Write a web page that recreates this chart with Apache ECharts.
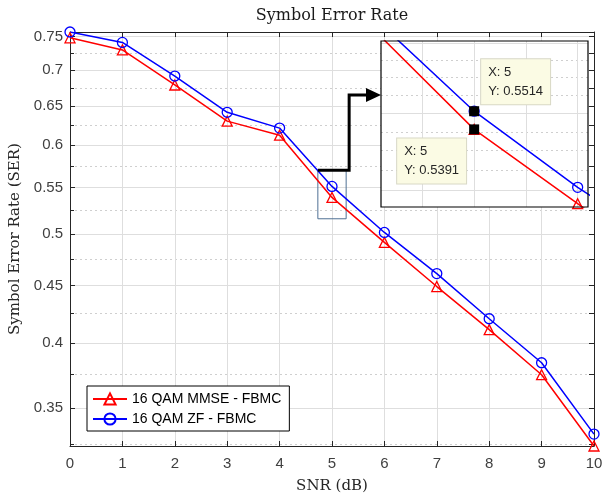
<!DOCTYPE html>
<html>
<head>
<meta charset="utf-8">
<script src="https://cdn.jsdelivr.net/npm/echarts@6/dist/echarts.min.js"></script>
<style>
  html, body { margin: 0; padding: 0; background: #fff; }
  #chart { width: 606px; height: 498px; }
</style>
</head>
<body>
<div id="chart"></div>
<script>
// data
var snr = [0, 1, 2, 3, 4, 5, 6, 7, 8, 9, 10];
var serMmse = [0.748, 0.7297, 0.679, 0.6305, 0.6125, 0.5391, 0.4916, 0.449, 0.411, 0.3747, 0.3237];
var serZf = [0.757, 0.741, 0.6916, 0.642, 0.6215, 0.5514, 0.5017, 0.4611, 0.4203, 0.384, 0.3317];
var nameMmse = '16 QAM MMSE - FBMC';
var nameZf = '16 QAM ZF - FBMC';

// tick labels / grid lines
var yMajor = [0.35, 0.4, 0.45, 0.5, 0.55, 0.6, 0.65, 0.7, 0.75];
var yMinor = [0.325, 0.375, 0.425, 0.475, 0.525, 0.575, 0.625, 0.675, 0.725];
var insetX = [4.5, 5, 5.5, 6];
var insetMajor = [0.5, 0.55, 0.6];
var insetMinor = [0.5125, 0.525, 0.5375, 0.5625, 0.575, 0.5875];

// zoom window + data tips
var zoomBox = [[4.73, 0.516], [5.27, 0.570]];
var tipIndex = 5;

var axisColor = '#262626';
var gridColor = '#dedede';
var minorColor = '#cfcfcf';
var sans = '"Liberation Sans", Arial, sans-serif';
var serif = '"DejaVu Serif", serif';

function pairs(ys) {
  return snr.map(function (x, i) { return [x, ys[i]]; });
}

var chart = echarts.init(document.getElementById('chart'), null, { renderer: 'canvas' });

var tipLabel = {
  show: true,
  fontFamily: sans,
  fontSize: 13,
  lineHeight: 19,
  color: '#262626',
  backgroundColor: '#fbfbe4',
  borderColor: '#d8d8c6',
  borderWidth: 1,
  padding: [4, 7, 3, 7],
  align: 'left',
  verticalAlign: 'top'
};

var option = {
  animation: false,
  backgroundColor: '#fff',
  grid: [
    { left: 70, top: 32, width: 524, height: 414, outerBoundsMode: 'none' },
    { left: 381, top: 41, width: 207, height: 166, outerBoundsMode: 'none' }
  ],
  legend: {
    data: [nameMmse, nameZf],
    orient: 'vertical',
    left: 87,
    top: 386,
    padding: [6, 8, 5, 5],
    itemGap: 6,
    itemWidth: 34,
    itemHeight: 14,
    backgroundColor: '#fff',
    borderColor: '#000',
    borderWidth: 1,
    textStyle: { fontFamily: sans, fontSize: 14, color: '#000' }
  },
  xAxis: [
    {
      type: 'value', gridIndex: 0, position: 'bottom', min: 0, max: 10, interval: 1,
      name: 'SNR (dB)', nameLocation: 'middle', nameGap: 33,
      nameTextStyle: { fontFamily: serif, fontSize: 15, color: '#262626' },
      axisLine: { lineStyle: { color: axisColor } },
      axisTick: { inside: true, length: 5, lineStyle: { color: axisColor } },
      axisLabel: { margin: 10, fontFamily: sans, fontSize: 15, color: '#404040' },
      splitLine: { show: true, lineStyle: { color: gridColor, width: 1 } }
    },
    {
      type: 'value', gridIndex: 0, position: 'top', min: 0, max: 10, interval: 1,
      name: 'Symbol Error Rate', nameLocation: 'middle', nameGap: 8,
      nameTextStyle: { fontFamily: serif, fontSize: 16, color: '#1a1a1a' },
      axisLine: { lineStyle: { color: axisColor } },
      axisTick: { inside: true, length: 5, lineStyle: { color: axisColor } },
      axisLabel: { show: false },
      splitLine: { show: false }
    },
    {
      type: 'value', gridIndex: 1, min: 4.1, max: 6.1, z: 6,
      axisLine: { show: false },
      axisTick: { show: false, customValues: insetX },
      axisLabel: { show: false, customValues: insetX },
      splitLine: { show: true, lineStyle: { color: gridColor, width: 1 } }
    }
  ],
  yAxis: [
    {
      type: 'log', gridIndex: 0, position: 'left', min: 0.3237, max: 0.757,
      name: 'Symbol Error Rate (SER)', nameLocation: 'middle', nameGap: 40,
      nameTextStyle: { fontFamily: serif, fontSize: 15, color: '#262626' },
      axisLine: { show: true, lineStyle: { color: axisColor } },
      axisTick: { inside: true, length: 5, customValues: yMajor, lineStyle: { color: axisColor } },
      axisLabel: {
        customValues: yMajor, margin: 7, fontFamily: sans, fontSize: 15, color: '#404040',
        formatter: function (v) { return String(+(+v).toFixed(3)); }
      },
      splitLine: { show: true, lineStyle: { color: gridColor, width: 1 } }
    },
    {
      type: 'log', gridIndex: 0, position: 'left', min: 0.3237, max: 0.757,
      axisLine: { show: false },
      axisTick: { show: true, inside: true, length: 4, customValues: yMinor, lineStyle: { color: axisColor } },
      axisLabel: { show: false, customValues: yMinor },
      splitLine: { show: true, lineStyle: { color: minorColor, width: 1, type: [2, 3] } }
    },
    {
      type: 'log', gridIndex: 0, position: 'right', min: 0.3237, max: 0.757,
      axisLine: { show: true, lineStyle: { color: axisColor } },
      axisTick: { show: true, inside: true, length: 5, customValues: yMajor.concat(yMinor), lineStyle: { color: axisColor } },
      axisLabel: { show: false, customValues: yMajor.concat(yMinor) },
      splitLine: { show: false }
    },
    {
      type: 'log', gridIndex: 1, position: 'left', min: 0.4896, max: 0.6016, z: 6,
      axisLine: { show: false },
      axisTick: { show: false, customValues: insetMajor },
      axisLabel: { show: false, customValues: insetMajor },
      splitLine: { show: true, lineStyle: { color: gridColor, width: 1 } }
    },
    {
      type: 'log', gridIndex: 1, position: 'left', min: 0.4896, max: 0.6016, z: 6,
      axisLine: { show: false },
      axisTick: { show: false, customValues: insetMinor },
      axisLabel: { show: false, customValues: insetMinor },
      splitLine: { show: true, lineStyle: { color: minorColor, width: 1, type: [2, 3] } }
    }
  ],
  series: [
    {
      name: nameMmse, type: 'line', xAxisIndex: 0, yAxisIndex: 0,
      data: pairs(serMmse),
      symbol: 'triangle', symbolSize: 10,
      lineStyle: { color: '#ff0000', width: 1.5 },
      itemStyle: { color: 'rgba(255,255,255,0)', borderColor: '#ff0000', borderWidth: 1.3 },
      markArea: {
        silent: true,
        itemStyle: { color: 'rgba(0,0,0,0)', borderColor: '#4f7094', borderWidth: 1 },
        data: [[{ coord: zoomBox[0] }, { coord: zoomBox[1] }]]
      }
    },
    {
      name: nameZf, type: 'line', xAxisIndex: 0, yAxisIndex: 0,
      data: pairs(serZf),
      symbol: 'circle', symbolSize: 10,
      lineStyle: { color: '#0000ff', width: 1.5 },
      itemStyle: { color: 'rgba(255,255,255,0)', borderColor: '#0000ff', borderWidth: 1.3 }
    },
    {
      name: nameMmse, type: 'line', xAxisIndex: 2, yAxisIndex: 3, z: 7,
      data: pairs(serMmse),
      symbol: 'triangle', symbolSize: 10,
      lineStyle: { color: '#ff0000', width: 1.5 },
      itemStyle: { color: 'rgba(255,255,255,0)', borderColor: '#ff0000', borderWidth: 1.3 },
      markPoint: {
        z: 8,
        symbol: 'rect', symbolSize: 10,
        itemStyle: { color: '#000' },
        data: [{
          coord: [snr[tipIndex], serMmse[tipIndex]],
          label: Object.assign({}, tipLabel, {
            position: [-72, 14],
            formatter: 'X: ' + snr[tipIndex] + '\nY: ' + serMmse[tipIndex]
          })
        }]
      }
    },
    {
      name: nameZf, type: 'line', xAxisIndex: 2, yAxisIndex: 3, z: 7,
      data: pairs(serZf),
      symbol: 'circle', symbolSize: 10,
      lineStyle: { color: '#0000ff', width: 1.5 },
      itemStyle: { color: 'rgba(255,255,255,0)', borderColor: '#0000ff', borderWidth: 1.3 },
      markPoint: {
        z: 8,
        symbol: 'rect', symbolSize: 10,
        itemStyle: { color: '#000' },
        data: [{
          coord: [snr[tipIndex], serZf[tipIndex]],
          label: Object.assign({}, tipLabel, {
            position: [12, -47],
            formatter: 'X: ' + snr[tipIndex] + '\nY: ' + serZf[tipIndex]
          })
        }]
      }
    }
  ]
};

chart.setOption(option);

// inset background, border and the arrow from the zoom box
var insetRect = chart.getModel().getComponent('grid', 1).coordinateSystem.getRect();
var boxTL = chart.convertToPixel({ gridIndex: 0 }, zoomBox[0]);
var boxBR = chart.convertToPixel({ gridIndex: 0 }, zoomBox[1]);
var boxTop = chart.convertToPixel({ gridIndex: 0 }, [zoomBox[0][0], zoomBox[1][1]]);
var turnX = boxBR[0] + 3;
var arrowY = insetRect.y + 54;

chart.setOption({
  graphic: [
    {
      type: 'rect', z: 5, silent: true,
      shape: { x: insetRect.x, y: insetRect.y, width: insetRect.width, height: insetRect.height },
      style: { fill: '#fff', stroke: null }
    },
    {
      type: 'rect', z: 9, silent: true,
      shape: { x: insetRect.x, y: insetRect.y, width: insetRect.width, height: insetRect.height },
      style: { fill: null, stroke: '#000', lineWidth: 1.2 }
    },
    {
      type: 'polyline', z: 9, silent: true,
      shape: { points: [[boxTL[0], boxTop[1]], [turnX, boxTop[1]], [turnX, arrowY], [insetRect.x - 12, arrowY]] },
      style: { stroke: '#000', lineWidth: 3, fill: null }
    },
    {
      type: 'polygon', z: 9, silent: true,
      shape: { points: [[insetRect.x - 15, arrowY - 7], [insetRect.x, arrowY], [insetRect.x - 15, arrowY + 7]] },
      style: { fill: '#000' }
    }
  ]
});
</script>
</body>
</html>
